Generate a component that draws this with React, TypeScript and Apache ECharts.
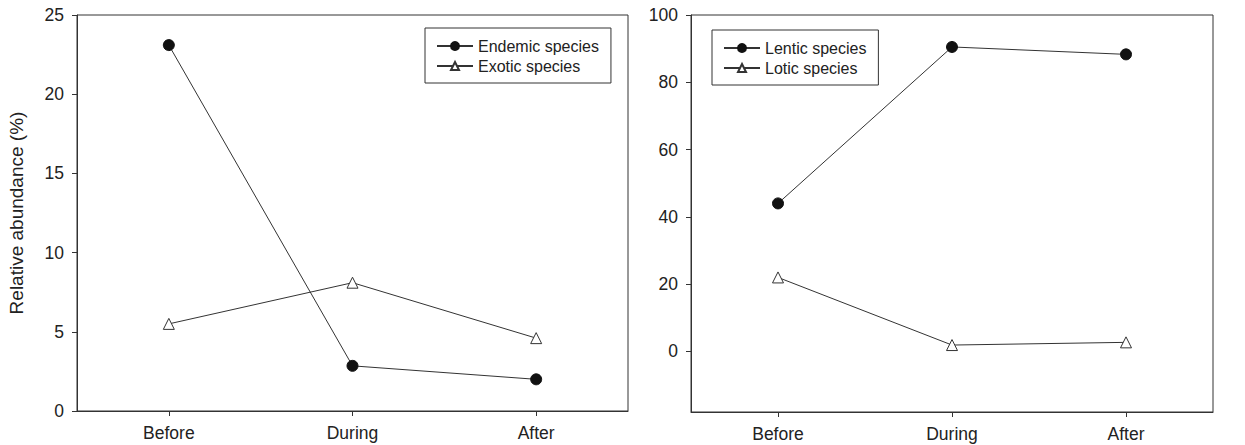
import React, { useEffect, useRef } from "react";
import * as echarts from "echarts";

const periods = ["Before", "During", "After"];
const endemic = [23.1, 2.85, 2.0];
const exotic = [5.5, 8.1, 4.6];
const lentic = [44.0, 90.5, 88.3];
const lotic = [22.0, 1.9, 2.7];
const rightTicks = [0, 20, 40, 60, 80, 100];

const INK = "#333333";
const FONT = "Liberation Sans, Arial, Helvetica, sans-serif";

export default function App() {
  const ref = useRef<HTMLDivElement>(null);
  useEffect(() => {
    document.body.style.margin = "0";
    const chart = echarts.init(ref.current!, null, { renderer: "svg" });
    const axisLine = { show: true, onZero: false, lineStyle: { color: INK, width: 1 } };
    const axisTick = { show: true, length: 5, lineStyle: { color: INK, width: 1 } };
    const label = { color: "#222", fontSize: 17.5, fontFamily: FONT };
    const lineSeries = (name: string, data: number[], idx: number, filled: boolean) => ({
      type: "line",
      name,
      data,
      xAxisIndex: idx,
      yAxisIndex: idx,
      symbol: filled ? "circle" : "triangle",
      symbolSize: 11,
      lineStyle: { color: INK, width: 1 },
      itemStyle: filled
        ? { color: "#111", borderColor: "#111", borderWidth: 1 }
        : { color: "#fff", borderColor: INK, borderWidth: 1 },
      emphasis: { disabled: true },
      z: filled ? 3 : 2,
    });
    const legendBase = {
      orient: "vertical",
      show: true,
      borderColor: INK,
      borderWidth: 1,
      padding: [10, 12, 9, 11],
      itemGap: 4,
      itemWidth: 36,
      itemHeight: 10,
      textStyle: { color: "#222", fontSize: 16, fontFamily: FONT },
      backgroundColor: "#fff",
    };
    chart.setOption({
      animation: false,
      grid: [
        { left: 77, top: 15, width: 551, height: 396, show: true, borderColor: INK, borderWidth: 1, backgroundColor: "transparent" },
        { left: 691, top: 15, width: 522, height: 397, show: true, borderColor: INK, borderWidth: 1, backgroundColor: "transparent" },
      ],
      legend: [
        { ...legendBase, data: ["Endemic species", "Exotic species"], left: 425, top: 28 },
        { ...legendBase, data: ["Lentic species", "Lotic species"], left: 712, top: 30 },
      ],
      xAxis: [0, 1].map((i) => ({
        type: "category",
        gridIndex: i,
        data: periods,
        boundaryGap: true,
        axisLine,
        axisTick: { ...axisTick, alignWithLabel: true },
        axisLabel: { ...label, margin: 13 },
        splitLine: { show: false },
      })),
      yAxis: [
        {
          type: "value",
          gridIndex: 0,
          min: 0,
          max: 25,
          interval: 5,
          axisLine,
          axisTick,
          axisLabel: { ...label, margin: 13 },
          splitLine: { show: false },
          name: "Relative abundance (%)",
          nameLocation: "middle",
          nameGap: 51,
          nameTextStyle: { color: "#222", fontSize: 19, fontFamily: FONT },
        },
        {
          type: "value",
          gridIndex: 1,
          min: -18,
          max: 100,
          axisLine,
          axisTick: { ...axisTick, customValues: rightTicks },
          axisLabel: { ...label, margin: 13, customValues: rightTicks },
          splitLine: { show: false },
        },
      ],
      series: [
        lineSeries("Endemic species", endemic, 0, true),
        lineSeries("Exotic species", exotic, 0, false),
        lineSeries("Lentic species", lentic, 1, true),
        lineSeries("Lotic species", lotic, 1, false),
      ],
    });
    return () => chart.dispose();
  }, []);
  return <div ref={ref} style={{ width: 1245, height: 445 }} />;
}
